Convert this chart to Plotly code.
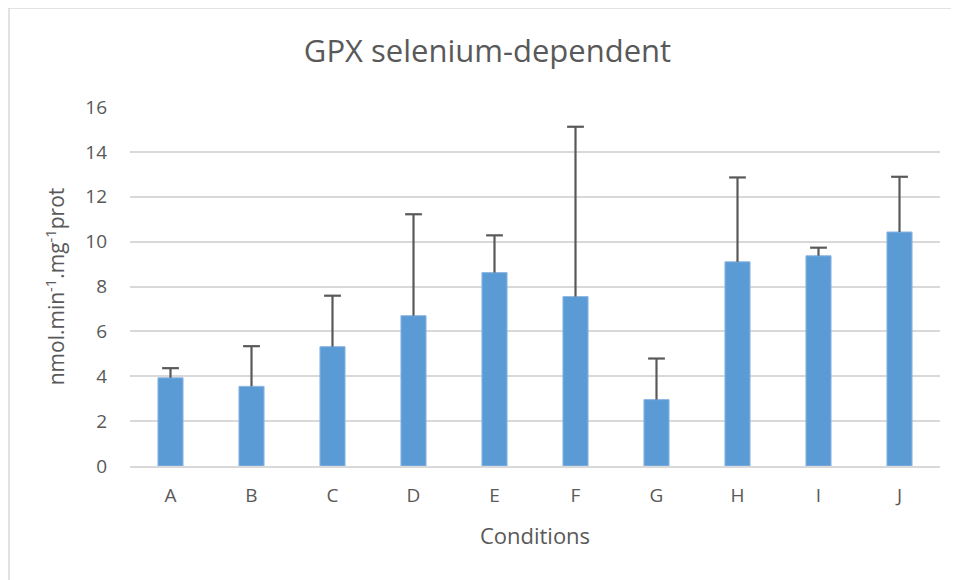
import plotly.graph_objects as go

categories = ["A", "B", "C", "D", "E", "F", "G", "H", "I", "J"]
means = [3.93, 3.55, 5.32, 6.70, 8.62, 7.55, 2.96, 9.10, 9.37, 10.43]
err_plus = [0.43, 1.79, 2.27, 4.52, 1.66, 7.57, 1.83, 3.76, 0.36, 2.46]
y_ticks = [0, 2, 4, 6, 8, 10, 12, 14, 16]

FONT = "Open Sans, Liberation Sans, sans-serif"
TXT = "#595959"

# page has an 8px body margin, so the figure is drawn 8px smaller
W, H = 951, 572
L, R, T, B = 122, 19, 99, 114
PW, PH = W - L - R, H - T - B

fig = go.Figure()
fig.add_trace(go.Bar(
    x=categories, y=means,
    width=0.31,
    marker=dict(color="#5B9BD5", line=dict(color="#8DB7E2", width=1)),
    error_y=dict(type="data", array=err_plus, symmetric=False,
                 arrayminus=[0] * len(means),
                 color=TXT, thickness=2.2, width=0),
    hoverinfo="skip",
))
# caps on top of the error bars
fig.add_trace(go.Scatter(
    x=categories, y=[m + e for m, e in zip(means, err_plus)],
    mode="markers",
    marker=dict(symbol="line-ew", size=12, line=dict(color=TXT, width=2.2)),
    hoverinfo="skip",
))

fig.update_layout(
    width=W, height=H,
    paper_bgcolor="white", plot_bgcolor="white",
    margin=dict(l=L, r=R, t=T, b=B, autoexpand=False),
    showlegend=False,
    title=dict(text="GPX selenium-dependent", x=(487.5 - 8) / W, xanchor="center",
               y=1 - (51 - 8) / H, yanchor="middle",
               font=dict(family=FONT, size=31, color=TXT)),
    font=dict(family=FONT, color=TXT),
)
fig.update_xaxes(
    title=dict(text="Conditions", font=dict(size=22, color=TXT), standoff=22),
    tickfont=dict(size=19, color=TXT),
    range=[-0.5, len(categories) - 0.5],
    showgrid=False, showline=True, linecolor="#D9D9D9", linewidth=1.5,
    ticks="", ticklabelstandoff=11,
)
fig.update_yaxes(
    title=dict(text="nmol.min<sup>-1</sup>.mg<sup>-1</sup>prot",
               font=dict(size=21, color=TXT), standoff=14),
    range=[0, 16], tickvals=y_ticks,
    tickfont=dict(size=19, color=TXT),
    showgrid=True, gridcolor="#D9D9D9", gridwidth=1.5,
    zeroline=False, showline=False, ticks="", ticklabelstandoff=22,
)
# outer chart frame (visible on left and top only)
fig.add_shape(type="rect", xref="paper", yref="paper",
              x0=(1 - L) / PW, x1=1.2, y0=-0.5, y1=1 + T / PH,
              line=dict(color="#D9D9D9", width=1.5), layer="below")

fig.write_html("out.html")
